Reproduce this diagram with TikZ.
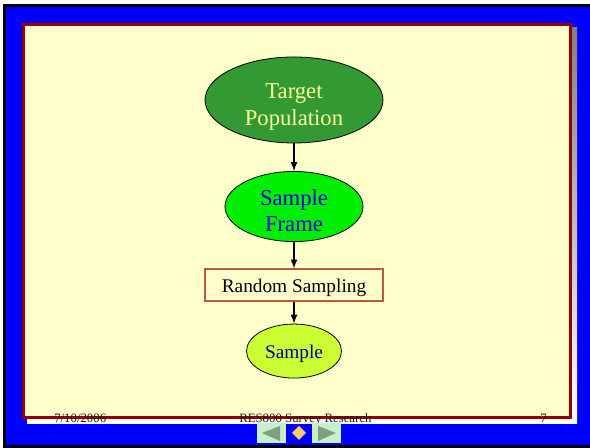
\documentclass[tikz,border=0pt]{standalone}
\usepackage{fontspec}
\setmainfont{Liberation Serif}
\usetikzlibrary{arrows,calc,positioning,shapes.geometric}
\definecolor{slideblue}{RGB}{0,0,255}
\definecolor{paper}{RGB}{255,255,204}
\definecolor{rim}{RGB}{153,0,0}
\definecolor{shade}{RGB}{102,102,68}
\definecolor{darkgreen}{RGB}{51,153,51}
\definecolor{lightgreen}{RGB}{0,238,0}
\definecolor{lime}{RGB}{204,255,51}
\definecolor{paleyellow}{RGB}{255,255,153}
\definecolor{boxrim}{RGB}{184,90,64}
\definecolor{mint}{RGB}{200,240,200}
\definecolor{mintdark}{RGB}{128,160,128}
\definecolor{orangey}{RGB}{255,204,102}
\tikzset{%
	oval/.style     = {draw, ellipse, line width=0.6pt, inner sep=0pt, align=center}, % Ellipse
	process/.style  = {draw=boxrim, rectangle, line width=0.9pt, inner sep=0pt, text centered},
	footer/.style   = {anchor=base west, inner sep=0pt, text=black!90, font=\fontsize{9.6}{11}\selectfont},
	arrow/.style    = {line width=1.3pt,-latex},
}

\begin{document}
\begin{tikzpicture}[x=0.75pt,y=0.75pt,node distance=1cm]
	% slide frame
	\useasboundingbox (0,0) rectangle (590,448);
	\fill[white] (0,0) rectangle (590,448);
	\fill[black] (3,0) rectangle (590,444);
	\fill[slideblue] (6,3) rectangle (590,441);
	\fill[shade] (27,24) rectangle (577,420);
	\draw[rim,fill=paper,line width=2.25pt] (23.5,30.5) rectangle (570.5,423.5);

	\node [oval,fill=darkgreen,text=paleyellow,minimum width=133.5pt,minimum height=63pt,text height=42pt,
		font=\fontsize{17}{20}\selectfont] (target) at (294,348) {Target\\Population};
	\node [oval,fill=lightgreen,text=blue!85!black,minimum width=103.5pt,minimum height=51.75pt,text height=37pt,
		font=\fontsize{17}{19.5}\selectfont] (frame) [below of=target,node distance=79.9pt] {Sample\\Frame};
	\node [process,minimum width=133.5pt,minimum height=24pt,text height=14.5pt,text depth=3.2pt,
		font=\fontsize{14.5}{17}\selectfont] (sampling) [below of=frame,node distance=58.9pt] {Random Sampling};
	\node [oval,fill=lime,text=blue!60!black,minimum width=71.25pt,minimum height=40.5pt,text height=14.5pt,text depth=3.2pt,
		font=\fontsize{14.5}{17}\selectfont] (sample) [below of=sampling,node distance=49.5pt] {Sample};

	\draw[arrow] (target) -- (frame);
	\draw[arrow] (frame) -- (sampling);
	\draw[arrow] (sampling) -- (sample);

	% footer
	\node [footer] (date) at (54,25) {7/10/2006};
	\node [footer] (course) at (239,25) {RES800 Survey Research};
	\node [footer] (page) at (540,25) {7};

	% navigation buttons
	\fill[mint] (257,5) rectangle (286,25);
	\fill[mintdark] (262,15) -- (280,22) -- (280,7) -- cycle;
	\fill[orangey] (299,8) -- (306,15) -- (299,22) -- (292,15) -- cycle;
	\fill[mint] (312,5) rectangle (341,25);
	\fill[mintdark] (336,15) -- (318,22) -- (318,7) -- cycle;
\end{tikzpicture}
\end{document}
